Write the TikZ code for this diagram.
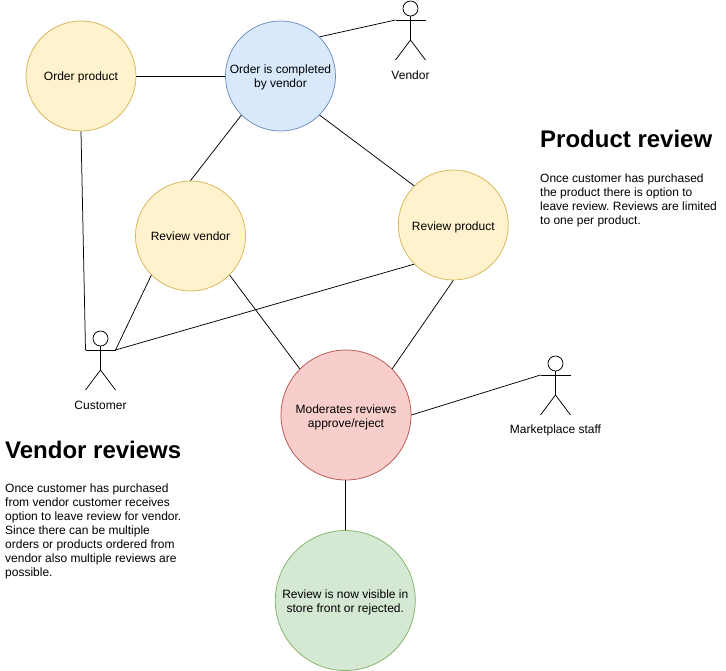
\documentclass[tikz,border=0pt]{standalone}
\usepackage{fontspec}
\setmainfont{Liberation Sans}
\frenchspacing
\definecolor{yf}{HTML}{FFF2CC}\definecolor{ys}{HTML}{D6B656}
\definecolor{bf}{HTML}{DAE8FC}\definecolor{bs}{HTML}{6C8EBF}
\definecolor{rf}{HTML}{F8CECC}\definecolor{rs}{HTML}{B85450}
\definecolor{gf}{HTML}{D5E8D4}\definecolor{gs}{HTML}{82B366}
\tikzset{
  uc/.style={circle,draw,inner sep=0pt,align=center,font=\fontsize{12}{14}\selectfont,line width=0.75pt},
  yc/.style={uc,fill=yf,draw=ys,minimum size=110pt},
  bc/.style={uc,fill=bf,draw=bs,minimum size=110pt},
  rc/.style={uc,fill=rf,draw=rs,minimum size=130pt},
  gc/.style={uc,fill=gf,draw=gs,minimum size=140pt},
  link/.style={draw=black,line width=0.75pt},
  lbl/.style={font=\fontsize{12}{14}\selectfont,inner sep=0pt},
  ttl/.style={font=\fontsize{24}{28}\selectfont\bfseries,inner sep=0pt,anchor=west},
  bodytext/.style={font=\fontsize{12}{14}\selectfont,inner sep=0pt,anchor=north west,align=left},
}
\newcommand{\nudge}[2]{\raisebox{-#1pt}[\height][\depth]{#2}}
\newcommand{\actor}[3]{%
  \node[draw,circle,fill=white,line width=0.75pt,minimum size=15pt,inner sep=0pt] (#3head) at (#1,#2-11.5) {};
  \coordinate (#3l) at (#1-15,#2);
  \coordinate (#3r) at (#1+15,#2);
  \coordinate (#3hip) at (#1,#2+20);
  \coordinate (#3fl) at (#1-15,#2+40);
  \coordinate (#3fr) at (#1+15,#2+40);
  \draw[link] (#3l) -- (#3r);
  \draw[link] (#3head) -- (#3hip);
  \draw[link] (#3fl) -- (#3hip) -- (#3fr);
}
\begin{document}
\begin{tikzpicture}[x=1pt,y=-1pt]
\useasboundingbox (0,0) rectangle (726,671);
\node[yc] (order) at (81,76) {\nudge{1.2}{Order product}};
\node[bc] (complete) at (280.5,76) {\nudge{1.2}{Order is completed}\\\nudge{1.2}{by vendor}};
\node[yc] (rvendor) at (190.5,236) {\nudge{0.4}{Review vendor}};
\node[yc] (rproduct) at (453.3,225) {\nudge{2}{Review product}};
\node[rc] (moderate) at (346,415) {\nudge{2.2}{Moderates reviews}\\\nudge{2.2}{approve/reject}};
\node[gc] (visible) at (345.3,600.5) {\nudge{1.5}{Review is now visible in}\\\nudge{1.5}{store front or rejected.}};
\actor{410.5}{20}{vendor}
\actor{100.5}{350}{customer}
\actor{555.5}{375}{staff}
\node[lbl] (vendorlabel) at (410.5,75) {Vendor};
\node[lbl] (customerlabel) at (100.5,405) {Customer};
\node[lbl] (stafflabel) at (555.5,430) {Marketplace staff};
\draw[link] (order.east) -- (complete.west);
\draw[link] (order.south) -- (customerl);
\draw[link] (complete.45) -- (vendorl);
\draw[link] (complete.225) -- (rvendor.north);
\draw[link] (complete.315) -- (rproduct.135);
\draw[link] (rvendor.225) -- (customerr);
\draw[link] (rproduct.225) -- (customerr);
\draw[link] (rvendor.315) -- (moderate.135);
\draw[link] (rproduct.south) -- (moderate.45);
\draw[link] (moderate.east) -- (staffl);
\draw[link] (visible.north |- moderate.south) -- (visible.north);
\node[ttl] (ptitle) at (540,139) {Product review};
\node[bodytext] (ptext) at (540,173.3) {Once customer has purchased\\the product there is option to\\leave review. Reviews are limited\\to one per product.};
\node[ttl] (vtitle) at (5,450) {Vendor reviews};
\node[bodytext] (vtext) at (5,483.3) {Once customer has purchased\\from vendor customer receives\\option to leave review for vendor.\\Since there can be multiple\\orders or products ordered from\\vendor also multiple reviews are\\possible.};
\end{tikzpicture}
\end{document}
